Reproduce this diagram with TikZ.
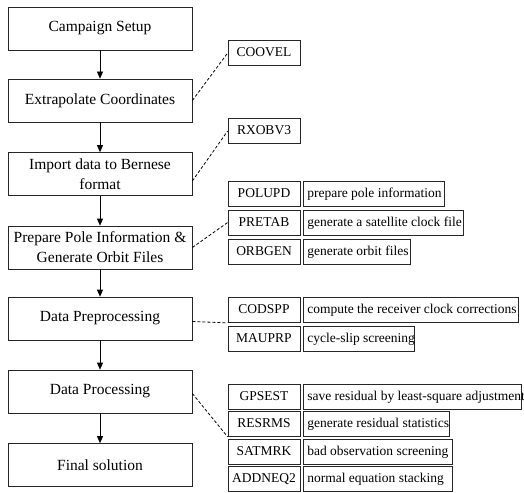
\documentclass[tikz,border=0pt]{standalone}
\usepackage{fontspec}
\setmainfont{Liberation Serif}
\usetikzlibrary{arrows.meta}
\begin{document}
\begin{tikzpicture}[x=1pt,y=-1pt,
  mainbox/.style={draw=black!85, line width=0.7pt, minimum width=184pt, minimum height=43pt,
    inner sep=0pt, align=center, font=\fontsize{15.5}{20}\selectfont},
  codebox/.style={draw=black!85, line width=0.7pt, minimum width=72pt, minimum height=25pt,
    inner sep=0pt, text height=9.5pt, text depth=2.5pt, font=\fontsize{13.5}{15}\selectfont},
  descbox/.style={draw=black!85, line width=0.7pt, anchor=west, minimum height=25pt,
    inner xsep=4pt, inner ysep=0pt, text height=9.5pt, text depth=2.5pt, font=\fontsize{13.5}{15}\selectfont},
  flow/.style={line width=0.7pt, -{Triangle[length=7pt,width=6pt]}},
  link/.style={line width=0.8pt, dash pattern=on 3pt off 2pt}]
\useasboundingbox (0,0) rectangle (524,492);
% main column
\node[mainbox] (camp) at (100,28.5) {Campaign Setup};
\node[mainbox] (extr) at (100,100.5) {Extrapolate Coordinates};
\node[mainbox] (imp) at (100,174) {Import data to Bernese\\format};
\node[mainbox] (prep) at (100,247.5) {Prepare Pole Information \&\\Generate Orbit Files};
\node[mainbox] (dpre) at (100,318.5) {Data Preprocessing};
\node[mainbox] (dproc) at (100,391.5) {Data Processing};
\node[mainbox] (final) at (100,465) {Final solution};
\draw[flow] (camp) -- (extr);
\draw[flow] (extr) -- (imp);
\draw[flow] (imp) -- (prep);
\draw[flow] (prep) -- (dpre);
\draw[flow] (dpre) -- (dproc);
\draw[flow] (dproc) -- (final);
% programs
\node[codebox] (coovel) at (264,53) {COOVEL};
\node[codebox] (rxobv) at (264,131) {RXOBV3};
\node[codebox] (polupd) at (264,194) {POLUPD};
\node[codebox] (pretab) at (264,222.5) {PRETAB};
\node[codebox] (orbgen) at (264,251.5) {ORBGEN};
\node[codebox] (codspp) at (264,310) {CODSPP};
\node[codebox] (mauprp) at (264,339) {MAUPRP};
\node[codebox] (gpsest) at (264,396.5) {GPSEST};
\node[codebox] (resrms) at (264,424) {RESRMS};
\node[codebox] (satmrk) at (264,451.5) {SATMRK};
\node[codebox] (addneq) at (264,479) {ADDNEQ2};
% descriptions
\node[descbox] (dpolupd) at (303,194) {\makebox[133pt][l]{prepare pole information}};
\node[descbox] (dpretab) at (303,222.5) {\makebox[152pt][l]{generate a satellite clock file}};
\node[descbox] (dorbgen) at (303,251.5) {\makebox[99pt][l]{generate orbit files}};
\node[descbox] (dcodspp) at (303,310) {\makebox[207pt][l]{compute the receiver clock corrections}};
\node[descbox] (dmauprp) at (303,339) {\makebox[103pt][l]{cycle-slip screening}};
\node[descbox] (dgpsest) at (303,396.5) {\makebox[210pt][l]{save residual by least-square adjustment}};
\node[descbox] (dresrms) at (303,424) {\makebox[138pt][l]{generate residual statistics}};
\node[descbox] (dsatmrk) at (303,451.5) {\makebox[141pt][l]{bad observation screening}};
\node[descbox] (daddneq) at (303,479) {\makebox[141pt][l]{normal equation stacking}};
% dashed links
\draw[link] (extr.east) -- (coovel.west);
\draw[link] ([yshift=-7pt]imp.east) -- (rxobv.west);
\draw[link] (prep.east) -- (pretab.west);
\draw[link] ([yshift=-3pt]dpre.east) -- (codspp.south west);
\draw[link] ([yshift=-2pt]dproc.east) -- (resrms.south west);
\end{tikzpicture}
\end{document}
